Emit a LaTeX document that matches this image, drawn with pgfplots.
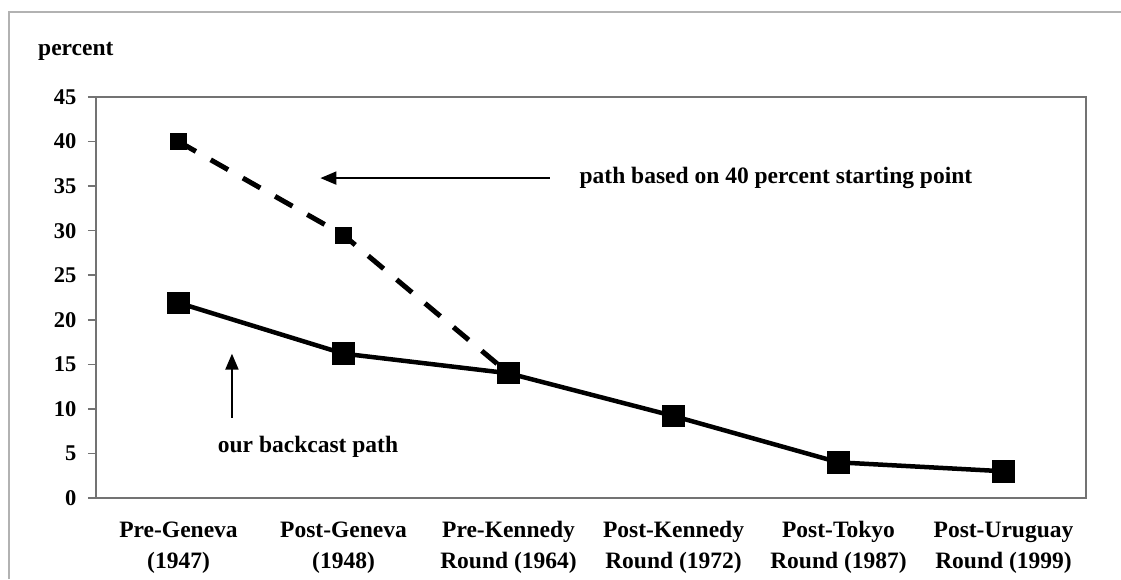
\documentclass[border=0pt]{standalone}
\usepackage{pgfplots}
\pgfplotsset{compat=1.18}
\usepackage{fontspec}
\setmainfont{Liberation Serif}
\usetikzlibrary{arrows.meta}
\begin{document}
\begin{tikzpicture}[x=1pt,y=1pt]
\useasboundingbox (0,0) rectangle (1121,579);
\draw[line width=2pt,color=black!30] (9,0) -- (9,567) -- (1121,567);
\node[anchor=west,inner sep=0pt,font=\fontsize{23.5}{23.5}\selectfont\bfseries] at (38,528) {percent};
\begin{axis}[
  at={(96pt,81pt)}, anchor=south west,
  scale only axis, width=990pt, height=401pt,
  xmin=-0.5, xmax=5.5, ymin=0, ymax=45,
  xtick={0,1,2,3,4,5},
  xticklabels={{\strut Pre-Geneva\\\strut(1947)},{\strut Post-Geneva\\\strut(1948)},{\strut Pre-Kennedy\\\strut Round (1964)},{\strut Post-Kennedy\\\strut Round (1972)},{\strut Post-Tokyo\\\strut Round (1987)},{\strut Post-Uruguay\\\strut Round (1999)}},
  xticklabel style={align=center,font=\fontsize{23.5}{31}\selectfont\bfseries,yshift=-6pt},
  xtick style={draw=none},
  ytick={0,5,...,45},
  ytick pos=left,
  tick align=outside,
  major tick length=8pt,
  ytick style={draw=black!55,line width=1.5pt},
  yticklabel style={font=\fontsize{22.5}{22.5}\selectfont\bfseries,xshift=-8pt},
  /pgf/number format/assume math mode=true,
  axis line style={draw=black!55,line width=2pt},
  clip=false,
]
\addplot[black,line width=5pt,dash pattern=on 20pt off 17pt,mark=square*,mark size=6pt,mark options={solid,fill=black}]
  coordinates {(0,40.0) (1,29.5) (2,14.0)};
\addplot[black,line width=4.5pt,mark=square*,mark size=9pt,mark options={solid,fill=black}]
  coordinates {(0,21.9) (1,16.2) (2,14.0) (3,9.2) (4,4.0) (5,3.0)};
\draw[black,line width=2pt,-{Triangle[length=16pt,width=13pt]}] (axis cs:2.25,35.9) -- (axis cs:0.86,35.9);
\node[anchor=west,inner sep=0pt,font=\fontsize{23.5}{23.5}\selectfont\bfseries] at (axis cs:2.43,35.9) {path based on 40 percent starting point};
\draw[black,line width=2pt,-{Triangle[length=16pt,width=13pt]}] (axis cs:0.324,9.0) -- (axis cs:0.324,16.2);
\node[inner sep=0pt,font=\fontsize{23.5}{23.5}\selectfont\bfseries] at (axis cs:0.785,5.7) {our backcast path};
\end{axis}
\end{tikzpicture}
\end{document}
